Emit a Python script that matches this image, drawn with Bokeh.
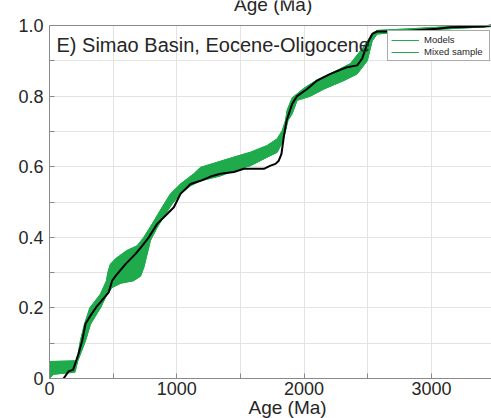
from bokeh.plotting import figure
from bokeh.models import (Range1d, FixedTicker, Label, Legend, LegendItem, Span,
                          BoxAnnotation, Title)
from bokeh.embed import file_html
from bokeh.resources import INLINE

# Model envelope: upper (left/top) edge of the model curves
models_upper_age = [0, 5, 210, 225, 243, 275, 317, 400, 448, 458, 479, 518, 605, 689,
                    741, 807, 885, 950, 1029, 1134, 1186, 1448, 1579, 1710, 1789, 1828,
                    1854, 1867, 1906, 1998, 2102, 2260, 2364, 2469, 2535, 2574, 2800,
                    3100, 3472]
models_upper_cdf = [0, 0.048, 0.05, 0.07, 0.107, 0.154, 0.20, 0.239, 0.277, 0.30, 0.324,
                    0.339, 0.362, 0.376, 0.40, 0.438, 0.485, 0.523, 0.551, 0.58, 0.598,
                    0.627, 0.641, 0.66, 0.679, 0.702, 0.73, 0.76, 0.795, 0.822, 0.846,
                    0.873, 0.892, 0.94, 0.977, 0.986, 0.99, 0.996, 1.0]

# Model envelope: lower (right/bottom) edge of the model curves
models_lower_age = [0, 30, 200, 222, 283, 322, 400, 453, 492, 560, 660, 715, 741, 767,
                    793, 846, 911, 964, 1029, 1108, 1186, 1343, 1448, 1579, 1710, 1789,
                    1828, 1854, 1872, 1906, 1945, 2050, 2155, 2312, 2417, 2496, 2535,
                    2574, 2800, 3100, 3472]
models_lower_cdf = [0, 0.012, 0.018, 0.05, 0.107, 0.154, 0.20, 0.239, 0.258, 0.27, 0.277,
                    0.29, 0.315, 0.353, 0.391, 0.428, 0.466, 0.495, 0.523, 0.546, 0.56,
                    0.574, 0.589, 0.603, 0.627, 0.641, 0.669, 0.702, 0.73, 0.75, 0.788,
                    0.80, 0.82, 0.844, 0.863, 0.90, 0.957, 0.976, 0.983, 0.99, 0.997]

# Mixed sample cumulative distribution
mixed_age = [110, 150, 186, 228, 257, 283, 322, 375, 465, 492, 518, 597, 676, 728, 780,
             846, 924, 977, 1029, 1108, 1186, 1265, 1343, 1448, 1527, 1684, 1736, 1775,
             1801, 1822, 1840, 1862, 1906, 1945, 2024, 2102, 2207, 2338, 2417, 2456,
             2496, 2535, 2574, 2757, 3046, 3150, 3409, 3472]
mixed_cdf = [0, 0.02, 0.025, 0.07, 0.107, 0.155, 0.178, 0.206, 0.244, 0.277, 0.29, 0.324,
             0.353, 0.376, 0.40, 0.438, 0.466, 0.485, 0.523, 0.551, 0.56, 0.572, 0.58,
             0.585, 0.594, 0.594, 0.603, 0.608, 0.617, 0.636, 0.683, 0.73, 0.778, 0.80,
             0.82, 0.844, 0.863, 0.882, 0.887, 0.906, 0.948, 0.976, 0.983, 0.983, 0.991,
             0.995, 0.997, 1.0]

x_ticks = [0, 1000, 2000, 3000]
x_minor = [500, 1500, 2500, 3500]
y_ticks = [0, 0.2, 0.4, 0.6, 0.8, 1.0]
y_tick_labels = ["0", "0.2", "0.4", "0.6", "0.8", "1.0"]
y_minor = [0.1, 0.3, 0.5, 0.7, 0.9]

GREEN = "#1fab4c"
FONT = "Liberation Sans"
TEXT = "#262626"
AXIS = "#8a8a8a"

# The frame reaches the top of the page; the band above 1.0 holds the
# (clipped) axis title of the panel above.
FRAME_H = 378
UNIT_PX = 353
y_top = FRAME_H / UNIT_PX

p = figure(width=491, height=418, output_backend="svg", toolbar_location=None,
           x_range=Range1d(0, 3472), y_range=Range1d(0, y_top),
           min_border_left=49, min_border_right=0, min_border_top=0,
           min_border_bottom=40)
p.outline_line_color = None
p.background_fill_color = "white"
p.border_fill_color = "white"

# grid every 500 Ma / 0.1
p.xgrid.ticker = FixedTicker(ticks=x_ticks + x_minor)
p.ygrid.ticker = FixedTicker(ticks=y_ticks + y_minor)
for g in (p.xgrid, p.ygrid):
    g.grid_line_color = "#e3e3e3"
    g.grid_line_width = 1

# hide grid above the axes box
p.add_layout(BoxAnnotation(bottom=1.0, fill_color="white", fill_alpha=1,
                           line_color=None, level="underlay"))

for ax in (p.xaxis[0], p.yaxis[0]):
    ax.axis_line_color = AXIS
    ax.major_tick_line_color = AXIS
    ax.minor_tick_line_color = AXIS
    ax.major_tick_in = 5
    ax.major_tick_out = 0
    ax.minor_tick_in = 5
    ax.minor_tick_out = 0
    ax.major_label_text_font = FONT
    ax.major_label_text_font_size = "18px"
    ax.major_label_text_color = TEXT

p.xaxis[0].ticker = FixedTicker(ticks=x_ticks, minor_ticks=x_minor)
p.xaxis[0].major_label_standoff = 3
p.yaxis[0].ticker = FixedTicker(ticks=y_ticks, minor_ticks=y_minor)
p.yaxis[0].major_label_overrides = dict(zip(y_ticks, y_tick_labels))
p.yaxis[0].major_label_standoff = 6
p.yaxis[0].bounds = (0, 1)

# top border of the axes box
p.add_layout(Span(location=1.0, dimension="width", line_color=AXIS, line_width=1))

# envelope of model curves
p.patch(x=models_upper_age + models_lower_age[::-1],
        y=models_upper_cdf + models_lower_cdf[::-1],
        fill_color=GREEN, line_color=GREEN, line_width=1)
r_up = p.line(models_upper_age, models_upper_cdf, line_color=GREEN, line_width=1)
r_lo = p.line(models_lower_age, models_lower_cdf, line_color=GREEN, line_width=1)

# mixed sample
p.line(mixed_age, mixed_cdf, line_color="black", line_width=2)

legend = Legend(items=[LegendItem(label="Models", renderers=[r_up]),
                       LegendItem(label="Mixed sample", renderers=[r_lo])],
                location=(338, 317), label_text_font=FONT, label_text_font_size="9.5px",
                label_text_color=TEXT, glyph_width=28, glyph_height=10,
                label_height=10, label_width=62, spacing=1, padding=3,
                label_standoff=5, border_line_color="#555555", border_line_width=1,
                background_fill_color="white", background_fill_alpha=1, margin=0)
p.add_layout(legend)

p.add_layout(Label(x=0, y=1.0, x_offset=7, y_offset=-19,
                   text="E) Simao Basin, Eocene-Oligocene", text_font=FONT,
                   text_font_size="20px", text_color=TEXT, text_baseline="alphabetic"))

# x-axis title of the panel above, cut by the page edge
p.add_layout(Label(x=1757, y=1.0, y_offset=21, text="Age (Ma)", text_font=FONT,
                   text_font_size="19px", text_color=TEXT, text_align="center",
                   text_baseline="alphabetic"))

# x-axis title
p.add_layout(Title(text="Age (Ma)", align="left", offset=199, standoff=-6,
                   text_font=FONT, text_font_size="19px", text_color=TEXT,
                   text_font_style="normal"), "below")

open("out.html", "w").write(file_html(p, INLINE))
